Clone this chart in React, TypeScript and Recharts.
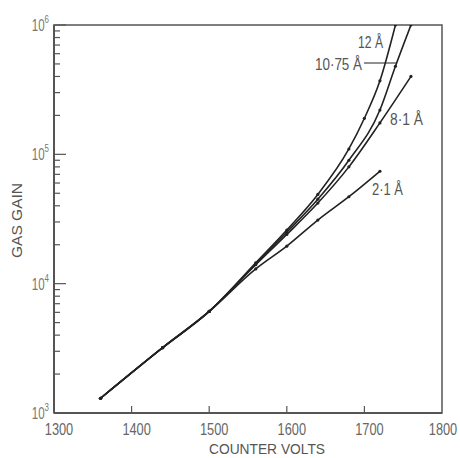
import { LineChart, Line, XAxis, YAxis, ReferenceArea } from "recharts";

// counter volts / gas gain, one pair of arrays per wavelength
const volts21 = [1360, 1440, 1500, 1560, 1600, 1640, 1680, 1720];
const gain21 = [1300, 3200, 6100, 13000, 19500, 31000, 47000, 74000];

const volts81 = [1360, 1440, 1500, 1560, 1600, 1640, 1680, 1720, 1760];
const gain81 = [1300, 3200, 6100, 14000, 24000, 42000, 80000, 175000, 400000];

const volts1075 = [1360, 1440, 1500, 1560, 1600, 1640, 1680, 1720, 1740, 1760];
const gain1075 = [1300, 3200, 6100, 14200, 25000, 45000, 90000, 220000, 480000, 1000000];

const volts12 = [1360, 1440, 1500, 1560, 1600, 1640, 1680, 1700, 1720, 1740];
const gain12 = [1300, 3200, 6100, 14500, 26000, 49000, 110000, 190000, 370000, 1000000];

const voltTicks = [1300, 1400, 1500, 1600, 1700, 1800];
const decades = [1000, 10000, 100000];
const gainTicks = [...decades.flatMap((d) => [1, 2, 3, 4, 5, 6, 7, 8, 9].map((m) => m * d)), 1000000];

const INK = "#222";
const AXIS = "#555";
const FONT = '"Liberation Sans", Arial, sans-serif';

const toPoints = (volts: number[], gains: number[]) =>
  volts.map((v, i) => ({ volts: v, gain: gains[i] }));

const series = [
  { name: "2.1", data: toPoints(volts21, gain21) },
  { name: "8.1", data: toPoints(volts81, gain81) },
  { name: "10.75", data: toPoints(volts1075, gain1075) },
  { name: "12", data: toPoints(volts12, gain12) },
];

function GainTick({ x, y, payload }: any) {
  const v = payload.value;
  const lg = Math.log10(v);
  const exp = Math.round(lg);
  const major = Math.abs(lg - exp) < 1e-6;
  return (
    <g>
      <line x1={x} x2={x + (major ? 12 : 6)} y1={y} y2={y} stroke={AXIS} strokeWidth={1.2} />
      {major && (
        <g transform={`translate(${x - 5},${y + 6}) scale(0.72,1)`}>
          <text x={0} y={0} textAnchor="end" fontFamily={FONT} fontSize={16} fill="#777">
            10
            <tspan dy={-8} fontSize={11}>{exp}</tspan>
          </text>
        </g>
      )}
    </g>
  );
}

function VoltTick({ x, y, payload }: any) {
  const inner = payload.value > 1300 && payload.value < 1800;
  const cx = Math.min(x + 5, 443);
  return (
    <g>
      {inner && <line x1={x} x2={x} y1={y} y2={y - 7} stroke={AXIS} strokeWidth={1.2} />}
      <g transform={`translate(${cx},${y + 22}) scale(0.8,1)`}>
        <text x={0} y={0} textAnchor="middle" fontFamily={FONT} fontSize={16} fill="#666">
          {payload.value}
        </text>
      </g>
    </g>
  );
}

export default function App() {
  return (
    <div style={{ position: "relative", width: 460, height: 458 }}>
      <style>{"body{margin:0}"}</style>
      <LineChart width={460} height={458} margin={{ top: 25, right: 18, bottom: 15, left: 14 }}>
        <XAxis
          dataKey="volts"
          type="number"
          domain={[1300, 1800]}
          ticks={voltTicks}
          height={30}
          tickSize={0}
          tickMargin={0}
          tickLine={false}
          axisLine={{ stroke: AXIS, strokeWidth: 2 }}
          tick={<VoltTick />}
          allowDataOverflow
        />
        <YAxis
          dataKey="gain"
          scale="log"
          type="number"
          domain={[1000, 1000000]}
          ticks={gainTicks}
          interval={0}
          width={40}
          tickSize={0}
          tickMargin={0}
          tickLine={false}
          axisLine={{ stroke: AXIS, strokeWidth: 2 }}
          tick={<GainTick />}
          allowDataOverflow
        />
        <ReferenceArea x1={1300} x2={1800} y1={1000} y2={1000000} fill="none" stroke={AXIS} strokeWidth={1.5} />
        {series.map((s) => (
          <Line
            key={s.name}
            data={s.data}
            dataKey="gain"
            type="monotone"
            stroke={INK}
            strokeWidth={1.6}
            dot={{ r: 1.6, fill: INK, stroke: "none" }}
            isAnimationActive={false}
          />
        ))}
      </LineChart>
      <svg
        width={460}
        height={458}
        style={{ position: "absolute", left: 0, top: 0, pointerEvents: "none" }}
        fontFamily={FONT}
        fill="#555"
        fontSize={16}
      >
        <text x={358} y={48} textLength={25} lengthAdjust="spacingAndGlyphs">12 Å</text>
        <text x={315} y={70} textLength={47} lengthAdjust="spacingAndGlyphs">10·75 Å</text>
        <line x1={364} x2={397} y1={63} y2={63} stroke={INK} strokeWidth={1.2} />
        <text x={390} y={125} textLength={33} lengthAdjust="spacingAndGlyphs">8·1 Å</text>
        <text x={372} y={195} textLength={31} lengthAdjust="spacingAndGlyphs">2·1 Å</text>
        <text x={209} y={454} fontSize={15} textLength={116} lengthAdjust="spacingAndGlyphs">COUNTER VOLTS</text>
        <text
          x={22}
          y={258}
          fontSize={15}
          textLength={75}
          lengthAdjust="spacingAndGlyphs"
          transform="rotate(-90 22 258)"
        >
          GAS GAIN
        </text>
      </svg>
    </div>
  );
}
